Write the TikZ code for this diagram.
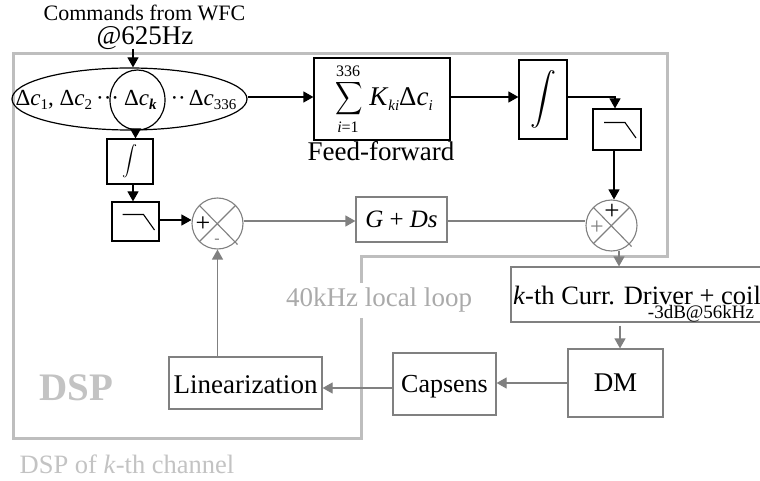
\documentclass[tikz,border=0pt]{standalone}
\usepackage{fontspec}
\usepackage{graphicx}
\setmainfont{Liberation Serif}
\usetikzlibrary{arrows.meta,calc,shapes.geometric}
\definecolor{dspgray}{RGB}{190,190,190}
\definecolor{loopgray}{RGB}{128,128,128}
\definecolor{lightlabel}{RGB}{195,195,195}
\definecolor{looplabel}{RGB}{170,170,170}
\tikzset{
  blackbox/.style={rectangle,draw=black,line width=1.2pt,inner sep=0pt},
  graybox/.style={rectangle,draw=loopgray,line width=1.2pt,inner sep=0pt,text=black},
  blackarrow/.style={draw=black,line width=1.2pt,-{Triangle[length=10pt,width=11pt]}},
  grayarrow/.style={draw=loopgray,line width=1.2pt,-{Triangle[length=10pt,width=11pt]}},
  sumcircle/.style={circle,draw=loopgray,line width=1.1pt,inner sep=0pt,minimum size=51pt},
  txt/.style={inner sep=0pt,text=black},
}
\newcommand{\sizedfont}[1]{\fontsize{#1}{#1}\selectfont}
\newcommand{\lowsub}[1]{\raisebox{-0.35ex}{\sizedfont{15}#1}}
\newcommand{\lowpass}[1]{%
  \draw[black,line width=1.1pt] ($(#1)+(-13,-7)$) -- ($(#1)+(8,-7)$) -- ($(#1)+(19,8.5)$);}
\newcommand{\crossmark}[1]{%
  \draw[loopgray,line width=1.1pt] ($(#1)+(-18,-18)$) -- ($(#1)+(20,21)$);
  \draw[loopgray,line width=1.1pt] ($(#1)+(-18,18)$) -- ($(#1)+(18,-18)$);}
\begin{document}
\begin{tikzpicture}[x=1pt,y=-1pt]
\useasboundingbox (0,0) rectangle (760,481);
\fill[white] (0,0) rectangle (760,481);
% DSP outline
\draw[dspgray,line width=3pt] (13,54) -- (667,54) -- (667,256) -- (361,256) -- (361,438) -- (13,438) -- cycle;
\node[txt,font=\sizedfont{22}] (cmd) at (144.5,13) {Commands from WFC};
\node[txt,font=\sizedfont{27}] (rate) at (145,38) {@625Hz};
% ellipse
\node[ellipse,draw=black,line width=1.2pt,inner sep=0pt,minimum width=235pt,minimum height=62pt] (ell) at (129.5,99) {};
\node[ellipse,draw=black,line width=1.2pt,inner sep=0pt,minimum width=55pt,minimum height=60pt] (ck) at (137.5,100) {};
\node[txt,font=\sizedfont{23}] (clist) at (126,100) {Δ\textit{c}\lowsub{1}, Δ\textit{c}\lowsub{2}\hspace{4pt}···\hspace{5pt}Δ\textit{c}\lowsub{\textbf{\textit{k}}}\hspace{14pt}··\hspace{3pt}Δ\textit{c}\lowsub{336}};
% boxes
\node[blackbox,minimum width=46pt,minimum height=45pt] (int1) at (130,161.5) {\scalebox{1.5}{$\displaystyle\int$}};
\node[blackbox,minimum width=47pt,minimum height=39pt] (lp1) at (135.5,221.5) {};
\lowpass{lp1}
\node[sumcircle] (sum1) at (217.5,223.5) {};
\crossmark{sum1}
\node[txt,font=\sizedfont{26}] (p1) at (203,224) {+};
\node[txt,font=\sizedfont{16},text=loopgray] (m1) at (217,241) {-};
\node[blackbox,minimum width=136pt,minimum height=82pt] (ff) at (382,99) {};
\node[txt] (ffsum) at (349.5,98.5) {\scalebox{1.9}[2.3]{$\displaystyle\sum$}};
\node[txt,font=\sizedfont{16}] (ffup) at (348,71) {336};
\node[txt,font=\sizedfont{16}] (ffdn) at (348,127) {\textit{i}=1};
\node[txt,font=\sizedfont{27}] (ffk) at (401,99) {\textit{K}\lowsub{\textit{ki}}Δ\textit{c}\lowsub{\textit{i}}};
\node[txt,font=\sizedfont{27}] (fflabel) at (381,151) {Feed-forward};
\node[blackbox,minimum width=48pt,minimum height=79pt] (int2) at (543,99.5) {\scalebox{2.6}{$\displaystyle\int$}};
\node[blackbox,minimum width=48pt,minimum height=41pt] (lp2) at (617,129.5) {};
\lowpass{lp2}
\node[sumcircle] (sum2) at (611.5,225.5) {};
\crossmark{sum2}
\node[txt,font=\sizedfont{27}] (p2) at (612,212) {+};
\node[txt,font=\sizedfont{24},text=loopgray] (p3) at (597,228) {+};
\node[graybox,minimum width=91pt,minimum height=45pt,font=\sizedfont{25}] (gds) at (401.5,219.5) {\textit{G} + \textit{Ds}};
\node[graybox,minimum width=252pt,minimum height=55pt] (drv) at (637,294.5) {};
\node[txt,font=\sizedfont{26.5}] (drvt) at (637,295) {\textit{k}-th Curr. Driver + coil};
\node[txt,font=\sizedfont{19}] (drvs) at (701,314) {-3dB@56kHz};
\node[graybox,minimum width=95pt,minimum height=68pt,font=\sizedfont{27}] (dm) at (615.5,383) {DM};
\node[graybox,minimum width=103pt,minimum height=62pt,font=\sizedfont{26},text depth=0pt] (cap) at (444.5,384) {Capsens};
\node[graybox,minimum width=153pt,minimum height=52pt,font=\sizedfont{27},text height=22pt] (lin) at (245.5,383) {Linearization};
\node[txt,font=\sizedfont{27},text=looplabel,fill=white,minimum height=35pt] (loop) at (379,300.5) {40kHz local loop};
\node[txt,font=\sizedfont{39},text=lightlabel] (dsp) at (76,388) {\textbf{DSP}};
\node[txt,font=\sizedfont{26.5},text=lightlabel] (chan) at (127,464) {DSP of \textit{k}-th channel};
% level and offset coordinates
\coordinate (ffy) at (0,97);
\coordinate (gy) at (0,221);
\coordinate (lx) at (615,0);
% black connectors
\draw[blackarrow] ($(rate.south -| ell.north)+(3.5,-1)$) coordinate (rs) -- (rs |- ell.north);
\draw[blackarrow] ($(ck.south)+(-2,0)$) coordinate (cks) -- (cks |- int1.north);
\draw[blackarrow] ($(int1.south)+(3,0)$) coordinate (is) -- (is |- lp1.north);
\draw[blackarrow] (lp1.east |- 0,220) -- (sum1.west |- 0,220);
\draw[blackarrow] (ell.east |- ffy) -- (ff.west |- ffy);
\draw[blackarrow] (ff.east |- ffy) -- (int2.west |- ffy);
\draw[blackarrow] (int2.east |- ffy) -- (lx |- ffy) -- (lx |- lp2.north);
\draw[blackarrow] ($(lp2.south)+(-3,0)$) coordinate (ls) -- (ls |- sum2.north);
% gray connectors
\draw[grayarrow] (sum1.east |- gy) -- (gds.west |- gy);
\draw[draw=loopgray,line width=1.2pt] (gds.east |- gy) -- (sum2.west |- gy);
\draw[grayarrow] ($(sum2.south)+(7.5,-1)$) coordinate (ss) -- (ss |- drv.north);
\draw[grayarrow] ($(drv.south)+(-17,3)$) coordinate (ds) -- (ds |- dm.north);
\draw[grayarrow] (dm.west) -- (dm.west -| cap.east);
\draw[grayarrow] ($(cap.west)+(0,4)$) coordinate (cw) -- (cw -| lin.east);
\draw[grayarrow] (lin.north -| sum1.south) -- (sum1.south);
\end{tikzpicture}
\end{document}
